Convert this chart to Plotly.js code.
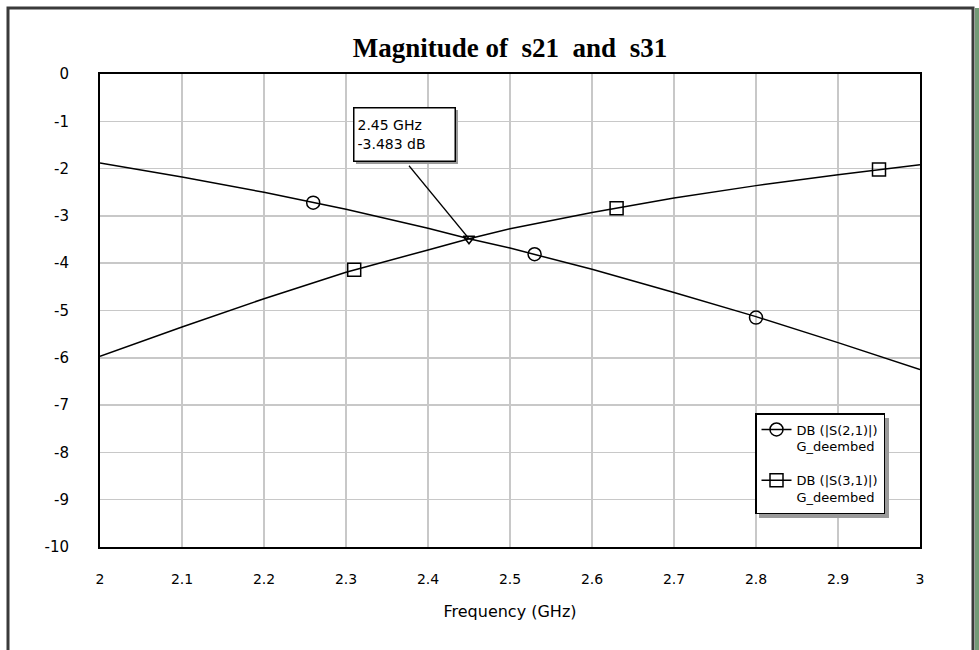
<!DOCTYPE html>
<html>
<head>
<meta charset="utf-8">
<script src="https://cdn.plot.ly/plotly-3.0.1.min.js"></script>
<style>html,body{margin:0;padding:0;background:#fff;}#chart{width:979px;height:650px;}</style>
</head>
<body>
<div id="chart"></div>
<script>
// ---- data ----
var freqGHz = [2.0, 2.1, 2.2, 2.3, 2.4, 2.45, 2.5, 2.6, 2.7, 2.8, 2.9, 3.0];
var s21dB   = [-1.88, -2.18, -2.50, -2.86, -3.26, -3.483, -3.68, -4.13, -4.62, -5.13, -5.68, -6.25];
var s31dB   = [-5.97, -5.35, -4.75, -4.19, -3.72, -3.483, -3.27, -2.93, -2.62, -2.36, -2.13, -1.92];

var s21MarkFreq = [2.26, 2.53, 2.80];
var s21MarkdB   = [-2.72, -3.81, -5.15];
var s31MarkFreq = [2.31, 2.63, 2.95];
var s31MarkdB   = [-4.14, -2.84, -2.02];

var markerFreq = [2.45];
var markerdB   = [-3.483];

var yTickVals   = [0, -1, -2, -3, -4, -5, -6, -7, -8, -9, -10];
var yTickLabels = ["0", "-1", "-2", "-3", "-4", "-5", "-6", "-7", "-8", "-9", "-10"];

var s21Name = "DB (|S(2,1)|)<br>G_deembed";
var s31Name = "DB (|S(3,1)|)<br>G_deembed";
var titleText = "Magnitude of \u00a0s21 \u00a0and \u00a0s31";
var xTitle = "Frequency (GHz)";
var markerLabel = "2.45 GHz<br>-3.483 dB";

// helpers turning pixel layout positions into paper coordinates
var L = 100, R = 920, T = 74, B = 547;
function px(v){ return (v - L) / (R - L); }
function py(v){ return (B - v) / (B - T); }

// markers separated by nulls so no segments are drawn between them
function sep(a){ var o=[]; a.forEach(function(v,i){ if(i) o.push(null); o.push(v); }); return o; }

var traces = [
  {x: freqGHz, y: s21dB, mode: 'lines', line: {color: '#000', width: 1.5}, showlegend: false, hoverinfo: 'skip'},
  {x: freqGHz, y: s31dB, mode: 'lines', line: {color: '#000', width: 1.5}, showlegend: false, hoverinfo: 'skip'},
  {x: sep(s21MarkFreq), y: sep(s21MarkdB), mode: 'lines+markers', connectgaps: false, name: s21Name, legendgroup: 'a',
   line: {color: '#000', width: 1.5},
   marker: {symbol: 'circle-open', size: 13, color: '#000', line: {width: 1.5, color: '#000'}}},
  {x: sep(s31MarkFreq), y: sep(s31MarkdB), mode: 'lines+markers', connectgaps: false, name: s31Name, legendgroup: 'b',
   line: {color: '#000', width: 1.5},
   marker: {symbol: 'square-open', size: 13, color: '#000', line: {width: 1.5, color: '#000'}}},
  {x: markerFreq, y: markerdB, mode: 'markers', showlegend: false,
   marker: {symbol: 'triangle-down-open', size: 10, color: '#000', line: {width: 1.5, color: '#000'}}}
];

var layout = {
  width: 979, height: 650,
  margin: {l: L, r: 979 - R, t: T, b: 650 - B},
  paper_bgcolor: '#fff', plot_bgcolor: '#fff',
  showlegend: true,
  title: {text: titleText, x: 510/979, xanchor: 'center', y: 1 - 48/650, yanchor: 'middle',
          font: {family: 'Liberation Serif, serif', size: 27, color: '#000', weight: 'bold'}},
  xaxis: {range: [2, 3], dtick: 0.1, tick0: 2, showgrid: true, gridcolor: '#c8c8c8', gridwidth: 1.5,
          showline: true, linecolor: '#000', linewidth: 2, mirror: true, zeroline: false,
          ticks: '', ticklabelstandoff: 18,
          tickfont: {family: 'DejaVu Sans, sans-serif', size: 14, color: '#000'},
          title: {text: xTitle, standoff: 20, font: {family: 'DejaVu Sans, sans-serif', size: 16, color: '#000'}}},
  yaxis: {range: [-10, 0], tickmode: 'array', tickvals: yTickVals, ticktext: yTickLabels,
          showgrid: true, gridcolor: '#c8c8c8', gridwidth: 1.5,
          showline: true, linecolor: '#000', linewidth: 2, mirror: true, zeroline: false,
          ticks: '', ticklabelstandoff: 26,
          tickfont: {family: 'DejaVu Sans, sans-serif', size: 15, color: '#000'}},
  legend: {x: px(885), y: py(514), xanchor: 'right', yanchor: 'bottom',
           bgcolor: '#fff', bordercolor: '#000', borderwidth: 1.5, valign: 'top',
           tracegroupgap: 14, itemwidth: 30,
           font: {family: 'DejaVu Sans, sans-serif', size: 13, color: '#000'}},
  shapes: [
    // outer frame
    {type: 'rect', xref: 'paper', yref: 'paper', x0: px(8), x1: px(973), y0: py(700), y1: py(8),
     line: {color: '#3a3a3a', width: 3}, fillcolor: 'rgba(0,0,0,0)', layer: 'below'},
    {type: 'rect', xref: 'paper', yref: 'paper', x0: px(975), x1: px(980), y0: py(700), y1: py(8),
     line: {width: 0}, fillcolor: '#739a76', layer: 'below'},
    // legend shadow
    {type: 'rect', xref: 'paper', yref: 'paper', x0: px(759), x1: px(889), y0: py(518), y1: py(418),
     line: {width: 0}, fillcolor: '#9a9a9a', layer: 'above'},
    // annotation shadow
    {type: 'rect', xref: 'paper', yref: 'paper', x0: px(356), x1: px(458), y0: py(164), y1: py(110),
     line: {width: 0}, fillcolor: '#9a9a9a', layer: 'above'},
    // leader line from marker to label
    {type: 'line', xref: 'x', yref: 'y', xsizemode: 'pixel', ysizemode: 'pixel',
     xanchor: markerFreq[0], yanchor: markerdB[0], x0: 0, y0: 0, x1: -60, y1: 73,
     line: {color: '#000', width: 1.2}, layer: 'above'}
  ],
  annotations: [
    {xref: 'paper', yref: 'paper', x: px(353), y: py(107), xanchor: 'left', yanchor: 'top',
     text: markerLabel, showarrow: false, align: 'left', valign: 'middle',
     width: 94, height: 46, borderpad: 3, bgcolor: '#fff', bordercolor: '#000', borderwidth: 1.5,
     font: {family: 'DejaVu Sans, sans-serif', size: 14, color: '#000'}}
  ]
};

Plotly.newPlot('chart', traces, layout, {displayModeBar: false, staticPlot: true});
</script>
</body>
</html>
